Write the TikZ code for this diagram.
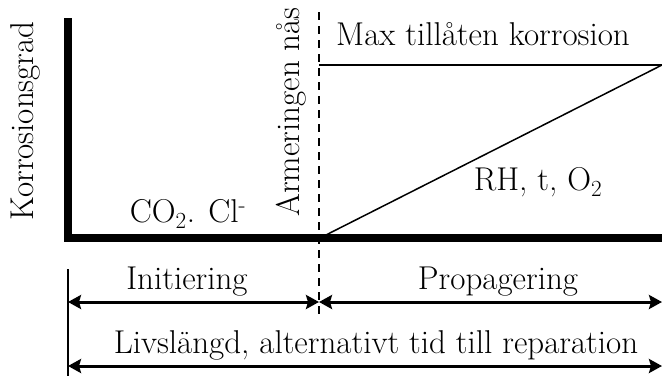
\documentclass[tikz,border=0pt]{standalone}
\usetikzlibrary{arrows.meta}
\begin{document}
\begin{tikzpicture}[x=1pt,y=-1pt,
  lbl/.style={inner sep=0pt,anchor=base,font=\fontsize{33}{38}\selectfont},
  axisline/.style={line width=8pt},
  thinline/.style={line width=1.5pt},
  dashline/.style={line width=1.3pt,dash pattern=on 8pt off 6pt},
  dimarrow/.style={line width=3pt,{Stealth[length=13pt,width=14pt,inset=2pt]}-{Stealth[length=13pt,width=14pt,inset=2pt]}}]
\useasboundingbox (0,0) rectangle (662,376);
% coordinates
\coordinate (ytop) at (68,18);
\coordinate (orig) at (68,237.5);
\coordinate (xend) at (662,237.5);
\coordinate (dtop) at (319,12);
\coordinate (dbot) at (319,316);
\coordinate (maxl) at (319,65);
\coordinate (maxr) at (662,65);
\coordinate (diag0) at (322,237);
\coordinate (tick0) at (68,269);
\coordinate (tick1) at (68,376);
\coordinate (a1l) at (68,302);
\coordinate (a1m) at (319,302);
\coordinate (a1r) at (662,302);
\coordinate (a2l) at (68,366);
\coordinate (a2r) at (662,366);
% axes
\draw[axisline] (ytop) |- (xend);
\draw[dashline] (dtop) -- (dbot);
\draw[thinline] (maxl) -- (maxr);
\draw[thinline] (diag0) -- (maxr);
\draw[thinline] (tick0) -- (tick1);
\draw[dimarrow] (a1l) -- (a1m);
\draw[dimarrow] (a1m) -- (a1r);
\draw[dimarrow] (a2l) -- (a2r);
% labels
\node[lbl,rotate=90] (ylab) at (33,121) {Korrosionsgrad};
\node[lbl,rotate=90] (arm) at (299,112) {Armeringen nås};
\node[lbl] (co2) at (188,222) {CO\textsubscript{2}. Cl\textsuperscript{-}};
\node[lbl] (max) at (483,45) {Max tillåten korrosion};
\node[lbl] (rh) at (538,190) {RH, t, O\textsubscript{2}};
\node[lbl] (ini) at (187,289) {Initiering};
\node[lbl] (prop) at (498,289) {Propagering};
\node[lbl] (liv) at (376,353) {Livslängd, alternativt tid till reparation};
\end{tikzpicture}
\end{document}
